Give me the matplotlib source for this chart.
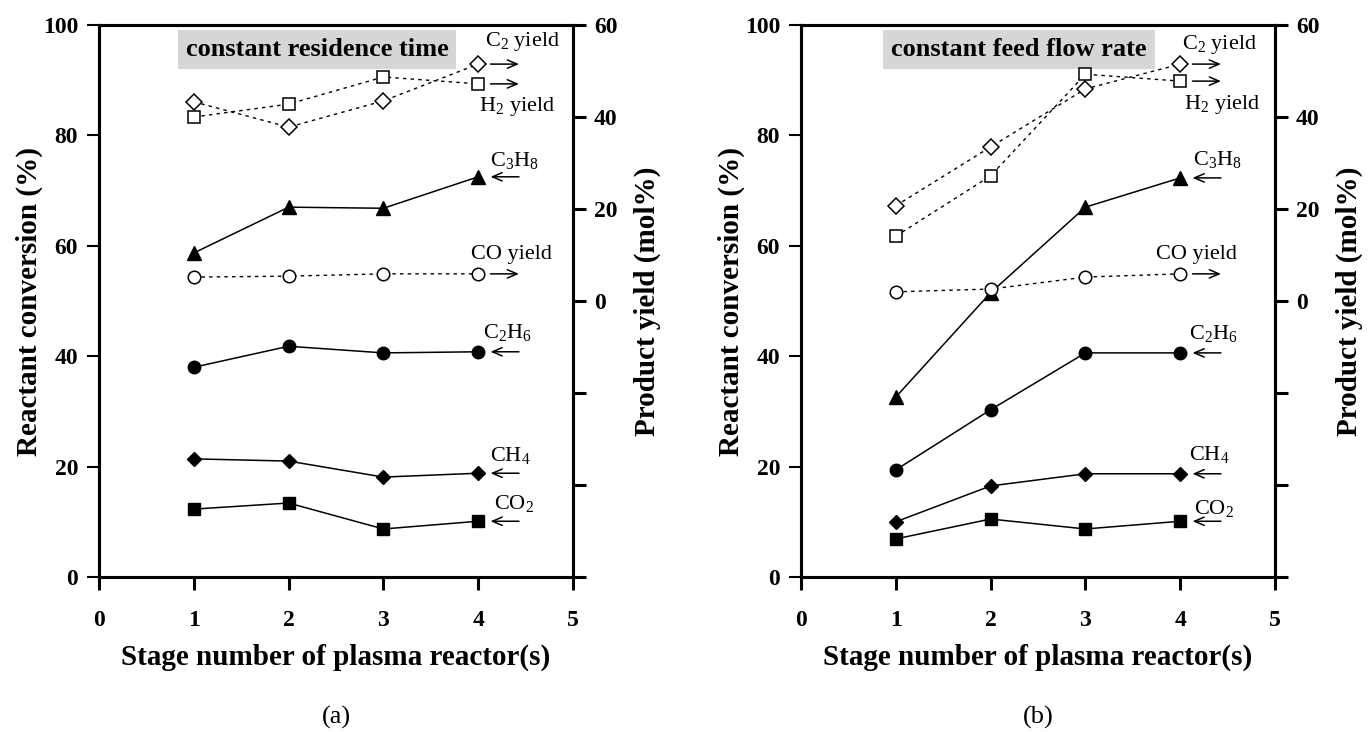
import matplotlib
matplotlib.use('Agg')
import matplotlib.pyplot as plt

plt.rcParams['font.family'] = ['Liberation Serif', 'DejaVu Serif']
plt.rcParams['mathtext.fontset'] = 'custom'
plt.rcParams['mathtext.rm'] = 'Liberation Serif'
plt.rcParams['mathtext.it'] = 'Liberation Serif:italic'
plt.rcParams['mathtext.bf'] = 'Liberation Serif:bold'

# ── data ─────────────────────────────────────────────────────────────────────
stages = [1, 2, 3, 4]

# (a) constant residence time -- reactant conversion (%)
a_c3h8 = [58.7, 67.0, 66.8, 72.5]
a_c2h6 = [38.0, 41.8, 40.6, 40.8]
a_ch4 = [21.4, 21.0, 18.1, 18.8]
a_co2 = [12.3, 13.4, 8.7, 10.1]
# (a) product yield (mol%)
a_c2_yield = [43.3, 37.8, 43.5, 51.5]
a_h2_yield = [40.0, 42.8, 48.7, 47.2]
a_co_yield = [5.2, 5.4, 5.9, 5.9]

# (b) constant feed flow rate -- reactant conversion (%)
b_c3h8 = [32.6, 51.5, 67.0, 72.3]
b_c2h6 = [19.4, 30.3, 40.6, 40.6]
b_ch4 = [10.0, 16.5, 18.7, 18.7]
b_co2 = [6.9, 10.5, 8.7, 10.1]
# (b) product yield (mol%)
b_c2_yield = [20.7, 33.5, 46.1, 51.5]
b_h2_yield = [14.1, 27.2, 49.3, 47.8]
b_co_yield = [2.0, 2.6, 5.2, 5.9]

x_ticks = [0, 1, 2, 3, 4, 5]
conv_ticks = [0, 20, 40, 60, 80, 100]
yield_ticks = [-60, -40, -20, 0, 20, 40, 60]
yield_ticklabels = ['', '', '', '0', '20', '40', '60']

conv_names = [r'C$_3$H$_8$', r'C$_2$H$_6$', r'CH$_4$', r'CO$_2$']
yield_names = [r'C$_2$ yield', r'H$_2$ yield', r'CO yield']

# marker styles
conv_markers = [('^', 10), ('o', 9), ('D', 7.5), ('s', 8.5)]
yield_markers = [('D', 8), ('s', 9), ('o', 9)]

# label offsets (points) relative to stage-4 marker
a_conv_off = [(26, 12), (21, 14), (23, 13), (26, 13)]
a_yield_off = [(32, 16), (28, -16), (24, 14)]
b_conv_off = [(27, 13), (24, 14), (21, 14), (24, 9)]
b_yield_off = [(28, 14), (30, -17), (12, 14)]

W, H = 1370, 732
fig = plt.figure(figsize=(W / 100, H / 100), dpi=100)

TICK_FONT = dict(fontsize=17, fontweight='bold')
LABEL_FONT = dict(fontsize=21, fontweight='bold')
ARROW = dict(arrowstyle='->,head_length=0.7,head_width=0.3', lw=1.1,
             color='k', shrinkA=0, shrinkB=0)


def draw_panel(left_px, title, conv, yields, conv_off, yield_off, tag):
    rect = [left_px / W, 1 - 577 / H, 474 / W, 552 / H]
    ax = fig.add_axes(rect)
    ax2 = ax.twinx()

    for vals, (m, ms), name, off in zip(conv, conv_markers, conv_names, conv_off):
        ax.plot(stages, vals, color='k', lw=1.1, marker=m, ms=ms,
                mfc='k', mec='k', zorder=3)
        ax.annotate(name, xy=(stages[-1], vals[-1]), xytext=off,
                    textcoords='offset points', ha='center', va='center',
                    fontsize=16)
        ax.annotate('', xy=(4.13, vals[-1]), xytext=(4.43, vals[-1]),
                    arrowprops=ARROW)

    for vals, (m, ms), name, off in zip(yields, yield_markers, yield_names, yield_off):
        ax2.plot(stages, vals, color='k', lw=1.0, ls=(0, (2.5, 3)),
                 marker=m, ms=ms, mfc='white', mec='k', mew=1.1, zorder=3)
        ax2.annotate(name, xy=(stages[-1], vals[-1]), xytext=off,
                     textcoords='offset points', ha='center', va='center',
                     fontsize=16)
        ax2.annotate('', xy=(4.43, vals[-1]), xytext=(4.13, vals[-1]),
                     arrowprops=ARROW)

    ax.set_xlim(0, 5)
    ax.set_ylim(0, 100)
    ax2.set_ylim(-60, 60)
    ax.set_xticks(x_ticks)
    ax.set_yticks(conv_ticks)
    ax2.set_yticks(yield_ticks)
    ax2.set_yticklabels(yield_ticklabels)
    ax.set_xticklabels([str(t) for t in x_ticks], **TICK_FONT)
    ax.set_yticklabels([str(t) for t in conv_ticks], **TICK_FONT)
    for lab in ax2.get_yticklabels():
        lab.set_fontsize(17)
        lab.set_fontweight('bold')

    for a in (ax, ax2):
        for sp in a.spines.values():
            sp.set_linewidth(2.2)
    ax.tick_params(axis='x', direction='out', length=9, width=2.2, pad=15)
    ax.tick_params(axis='y', direction='out', length=9, width=1.5, pad=6)
    ax2.tick_params(axis='y', direction='out', length=9, width=2.2, pad=6)

    ax.set_xlabel('Stage number of plasma reactor(s)', labelpad=9, **LABEL_FONT)
    ax.set_ylabel('Reactant conversion (%)', labelpad=0, **LABEL_FONT)
    ax2.set_ylabel('Product yield (mol%)', labelpad=12, **LABEL_FONT)

    ax.text(0.46, 0.955, title, transform=ax.transAxes, ha='center',
            va='center', fontsize=19, fontweight='bold', zorder=1,
            bbox=dict(boxstyle='square,pad=0.3', facecolor='#d6d6d6',
                      edgecolor='none'))

    fig.text((left_px + 237) / W, 1 - 717 / H, tag, ha='center',
             va='center', fontsize=19)


draw_panel(99, 'constant residence time',
           [a_c3h8, a_c2h6, a_ch4, a_co2],
           [a_c2_yield, a_h2_yield, a_co_yield],
           a_conv_off, a_yield_off, '(a)')
draw_panel(801, 'constant feed flow rate',
           [b_c3h8, b_c2h6, b_ch4, b_co2],
           [b_c2_yield, b_h2_yield, b_co_yield],
           b_conv_off, b_yield_off, '(b)')

fig.savefig('out.png', dpi=100, facecolor='white')
